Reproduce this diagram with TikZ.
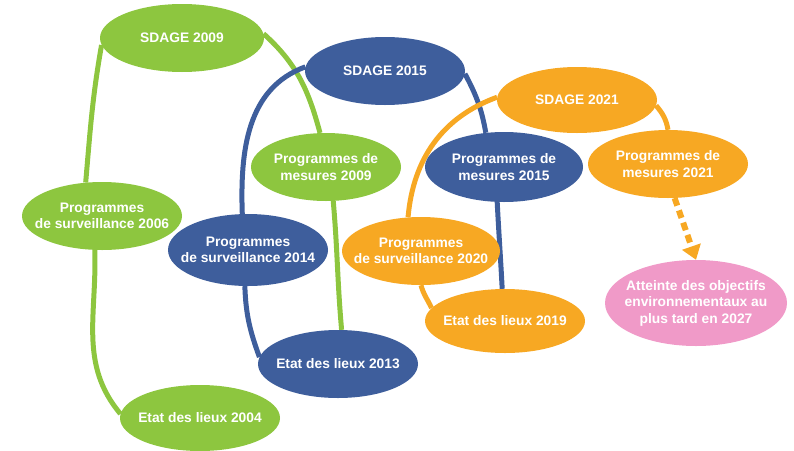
\documentclass[tikz,border=0pt]{standalone}
\usepackage{xcolor}
\usepackage{fontspec}
\setmainfont{Liberation Sans}
\usepackage{tikz}
\usetikzlibrary{shapes.geometric,arrows.meta,backgrounds}
\definecolor{vert}{HTML}{8DC63F}
\definecolor{bleu}{HTML}{3E5E9C}
\definecolor{orangec}{HTML}{F7A823}
\definecolor{rose}{HTML}{F09AC8}

\begin{document}
\begin{tikzpicture}[x=1pt,y=-1pt,
    bulle/.style={ellipse,inner sep=0pt,
      minimum width=160pt,minimum height=68pt},
    texte/.style={align=center,text=white,inner sep=0pt,
      font=\fontsize{13.8}{16.5}\selectfont\bfseries},
    lien/.style={line width=5pt}]
  \useasboundingbox (0,0) rectangle (794,450);

  % cycle 2009
  \node[bulle,fill=vert,minimum width=164pt,label={[texte]center:SDAGE 2009}] (s09) at (182,38) {};
  \node[bulle,fill=vert,label={[texte]center:Programmes\\de surveillance 2006}] (ps06) at (102,216) {};
  \node[bulle,fill=vert,minimum height=66pt,label={[texte]center:Etat des lieux 2004}] (e04) at (200,418) {};
  \node[bulle,fill=vert,minimum width=150pt,label={[texte]center:Programmes de\\mesures 2009}] (pm09) at (326,167) {};

  % cycle 2015
  \node[bulle,fill=bleu,label={[texte]center:SDAGE 2015}] (s15) at (385,71) {};
  \node[bulle,fill=bleu,minimum width=158pt,minimum height=70pt,label={[texte]center:Programmes de\\mesures 2015}] (pm15) at (504,167) {};
  \node[bulle,fill=bleu,minimum height=72pt,label={[texte]center:Programmes\\de surveillance 2014}] (ps14) at (248,250) {};
  \node[bulle,fill=bleu,label={[texte]center:Etat des lieux 2013}] (e13) at (338,364) {};

  % cycle 2021
  \node[bulle,fill=orangec,minimum height=66pt,label={[texte]center:SDAGE 2021}] (s21) at (577,100) {};
  \node[bulle,fill=orangec,label={[texte]center:Programmes de\\mesures 2021}] (pm21) at (668,164) {};
  \node[bulle,fill=orangec,minimum width=158pt,label={[texte]center:Programmes\\de surveillance 2020}] (ps20) at (421,251) {};
  \node[bulle,fill=orangec,minimum height=64pt,label={[texte]center:Etat des lieux 2019}] (e19) at (505,321) {};

  \node[bulle,fill=rose,minimum width=182pt,minimum height=86pt,
    label={[texte]center:Atteinte des objectifs\\environnementaux au\\plus tard en 2027}] (at27) at (696,303) {};

  \begin{scope}[on background layer]
    \draw[lien,vert] (s09.185) to[out=260,in=85] (ps06.116);
    \draw[lien,vert] (s09.3) to[out=-42,in=105] (pm09.100);
    \draw[lien,vert] (ps06.258) to[out=-88,in=130] (e04.177);
    \draw[lien,vert] (pm09.-78) to[out=-85,in=95] (e13.84);
    \draw[lien,bleu] (s15.177) to[out=200,in=92] (ps14.99);
    \draw[lien,bleu] (s15.-2) to[out=-62,in=100] (pm15.118);
    \draw[lien,bleu] (pm15.-101) to[out=-87,in=93] (e19.95);
    \draw[lien,bleu] (ps14.-95) to[out=-88,in=110] (e13.175);
    \draw[lien,orangec] (s21.178) to[out=200,in=85] (ps20.111);
    \draw[lien,orangec] (s21.-4) to[out=-50,in=100] (pm21.90);
    \draw[lien,orangec] (ps20.-90) to[out=-75,in=115] (e19.170);
  \end{scope}

  \draw[orangec,line width=6pt,dash pattern=on 8pt off 5pt,
    -{Triangle[length=14pt,width=19pt]}] (pm21.-79) -- (at27.north);
\end{tikzpicture}
\end{document}
